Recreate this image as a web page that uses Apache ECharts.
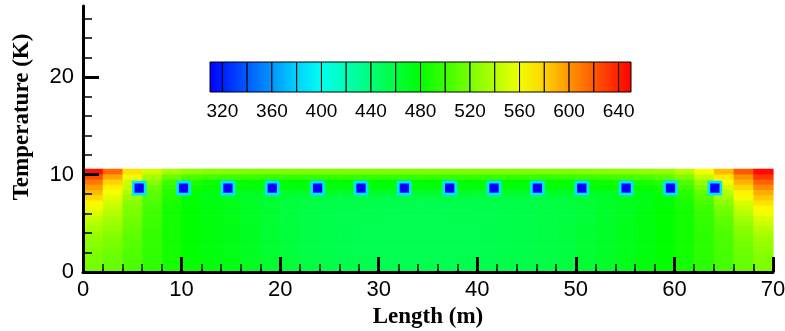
<!DOCTYPE html>
<html><head><meta charset="utf-8">
<script src="https://cdn.jsdelivr.net/npm/echarts@6/dist/echarts.min.js"></script>
<style>html,body{margin:0;padding:0;background:#fff}#c{width:785px;height:331px}</style>
</head><body><div id="c"></div>
<script>
// ---- data ----
const xCenters = [1,3,5,7,9,11,13,15,17,19,21,23,25,27,29,31,33,35,37,39,41,43,45,47,49,51,53,55,57,59,61,63,65,67,69];
const yCenters = [0.265,0.795,1.325,1.855,2.385,2.915,3.445,3.975,4.505,5.035,5.565,6.095,6.625,7.155,7.685,8.215,8.745,9.275,9.805,10.335];
// temperature rows, bottom (y=0.265) to top (y=10.335)
const tempRows = [
 [518,513,504,496,487,482, 477,474,470,465,461,458,456,455,454,453,453,453,453,454,454,455,456,458,460,463,467,471,476, 481,486,494,503,513,521],
 [519,514,505,496,487,482, 477,474,470,465,461,458,456,455,454,453,453,453,453,454,454,455,456,458,460,463,467,471,476, 481,486,494,503,514,522],
 [520,515,505,496,487,481, 477,473,469,465,461,457,455,454,454,453,453,453,453,454,454,455,456,457,459,463,467,471,476, 480,486,494,503,514,523],
 [521,516,506,496,487,481, 476,473,469,465,460,457,455,454,453,453,453,453,453,453,454,455,456,457,459,463,467,471,475, 480,486,494,503,515,525],
 [523,518,507,496,486,480, 476,473,469,464,460,457,455,454,453,453,453,453,453,453,454,455,456,457,459,463,467,471,475, 480,486,494,504,516,527],
 [525,520,508,497,486,480, 476,473,469,464,460,457,455,454,453,453,453,453,453,453,454,455,456,457,459,463,467,471,475, 480,486,494,504,518,529],
 [528,522,510,497,486,479, 476,473,469,464,460,457,455,454,453,453,453,453,453,453,454,455,456,457,459,463,467,471,475, 480,486,494,505,520,532],
 [531,525,512,498,486,479, 476,473,469,464,460,457,455,454,453,453,453,453,453,453,454,455,456,457,459,463,467,471,475, 480,486,495,506,523,536],
 [535,528,514,498,486,479, 476,473,469,464,460,457,455,454,453,453,453,453,453,453,454,455,456,457,459,463,467,471,475, 480,486,495,508,526,541],
 [540,532,516,500,486,479, 476,473,468,464,460,457,455,454,454,453,453,453,453,454,454,455,456,457,459,462,466,471,475, 480,486,496,510,530,547],
 [546,535,518,500,486,479, 476,473,468,464,460,457,455,454,454,453,453,453,453,454,454,455,456,457,459,462,466,471,475, 480,486,497,512,535,553],
 [553,540,520,502,486,480, 476,472,468,464,460,457,455,454,454,454,453,453,454,454,454,455,456,457,459,462,466,470,475, 480,486,498,516,540,560],
 [560,545,522,503,487,480, 475,472,468,464,460,457,455,455,454,454,454,454,454,454,455,455,456,457,459,462,466,470,474, 480,487,500,520,546,567],
 [568,550,525,505,488,480, 475,472,468,464,460,457,456,455,455,455,454,454,454,455,455,455,456,457,459,462,466,470,474, 480,488,503,526,552,575],
 [578,555,530,508,490,480, 472,469,466,463,461,459,458,458,458,457,457,457,457,458,458,458,458,459,461,463,466,469,473, 481,491,508,533,561,583],
 [588,562,538,510,492,482, 474,471,469,468,467,467,467,466,466,466,466,466,466,466,466,467,467,467,468,469,470,472,476, 483,494,513,541,569,593],
 [598,570,545,515,495,485, 480,478,477,477,476,476,476,476,476,476,476,476,476,476,476,476,476,477,477,478,479,481,483, 487,499,521,549,579,604],
 [610,580,550,525,500,490, 484,482,481,481,480,480,480,480,480,480,480,480,480,480,480,480,480,481,481,482,484,486,488, 493,506,530,560,590,617],
 [625,595,560,535,515,505, 502,500,499,498,498,498,498,498,498,498,498,498,498,498,498,498,498,498,499,500,501,503,505, 510,522,545,572,602,632],
 [645,615,575,550,535,528, 525,523,522,522,521,521,521,521,521,521,521,521,521,521,521,521,521,522,522,523,524,526,527, 530,540,562,588,620,647]
];
const probeX = [5.7,10.2,14.7,19.2,23.8,28.2,32.6,37.2,41.7,46.1,50.6,55.1,59.6,64.1];
const probeY = [8.6,8.6,8.6,8.6,8.6,8.6,8.6,8.6,8.6,8.6,8.6,8.6,8.6,8.6];
const legendEdges = [310,320,340,360,380,400,420,440,460,480,500,520,540,560,580,600,620,640,650];
const legendLabels = [320,360,400,440,480,520,560,600,640];
const yMajorTicks = [0,10,20];
const yMinorTicks = [2,4,6,8,12,14,16,18,22,24,26];
const cmap = ['#0000ff','#00ffff','#00ff00','#ffff00','#ff0000'];
const cMin = 310, cMax = 650;

// ---- build ----
const fieldData = [];
tempRows.forEach((row, j) => row.forEach((v, i) => fieldData.push([xCenters[i], yCenters[j], v])));
const probeData = probeX.map((x, i) => [x, probeY[i]]);
const bandData = [];
for (let k = 0; k < legendEdges.length - 1; k++) bandData.push([legendEdges[k], legendEdges[k+1]]);
const DX = 2, DY = 0.53;
const colorAt = v => echarts.color.lerp((v - cMin) / (cMax - cMin), cmap);

const chart = echarts.init(document.getElementById('c'), null, {renderer: 'canvas'});
const sans = '"Liberation Sans", Arial, sans-serif';
const serif = '"Liberation Serif", "Times New Roman", serif';
chart.setOption({
  animation: false,
  backgroundColor: '#fff',
  grid: [
    {left: 83, right: 12, top: 6, bottom: 59, containLabel: false, outerBoundsMode: 'none'},
    {left: 210, width: 421, top: 62, height: 30, containLabel: false, outerBoundsMode: 'none'}
  ],
  xAxis: [
    {type: 'value', gridIndex: 0, min: 0, max: 70, interval: 10, z: 5,
     axisLine: {lineStyle: {color: '#000', width: 3}},
     axisTick: {inside: true, length: 15, lineStyle: {color: '#000', width: 3}},
     minorTick: {show: true, splitNumber: 5, length: 8, lineStyle: {color: '#000', width: 1.5}},
     splitLine: {show: false},
     axisLabel: {color: '#000', fontSize: 22, fontFamily: sans, margin: 7},
     name: 'Length (m)', nameLocation: 'middle', nameGap: 33,
     nameTextStyle: {color: '#000', fontSize: 23, fontWeight: 'bold', fontFamily: serif}},
    {type: 'value', gridIndex: 1, min: cMin, max: cMax,
     axisLine: {show: false}, axisTick: {show: false}, splitLine: {show: false},
     axisLabel: {customValues: legendLabels, color: '#000', fontSize: 19, fontFamily: sans, margin: 10}}
  ],
  yAxis: [
    {type: 'value', gridIndex: 0, min: 0, max: 27.3, z: 5,
     axisLine: {show: true, lineStyle: {color: '#000', width: 3}},
     axisTick: {show: true, inside: true, length: 16, customValues: yMajorTicks, lineStyle: {color: '#000', width: 3}},
     splitLine: {show: false},
     axisLabel: {customValues: yMajorTicks, color: '#000', fontSize: 22, fontFamily: sans, margin: 9}},
    {type: 'value', gridIndex: 0, position: 'left', min: 0, max: 27.3, z: 5,
     axisLine: {show: false},
     axisTick: {show: true, inside: true, length: 9, customValues: yMinorTicks, lineStyle: {color: '#000', width: 1.5}},
     splitLine: {show: false}, axisLabel: {show: false}},
    {type: 'value', gridIndex: 1, min: 0, max: 1, show: false}
  ],
  visualMap: {type: 'continuous', show: false, dimension: 2, seriesIndex: 0,
    min: cMin, max: cMax, inRange: {color: cmap}},
  graphic: [{type: 'text', x: 22, y: 117, rotation: Math.PI / 2,
    style: {text: 'Temperature (K)', font: 'bold 23px ' + serif, fill: '#000', align: 'center', verticalAlign: 'middle'}}],
  series: [
    {type: 'custom', xAxisIndex: 0, yAxisIndex: 0, data: fieldData, z: 1,
     renderItem: (params, api) => {
       const x = api.value(0), y = api.value(1);
       const p0 = api.coord([x - DX / 2, y + DY / 2]);
       const p1 = api.coord([x + DX / 2, y - DY / 2]);
       return {type: 'rect', shape: {x: p0[0], y: p0[1], width: p1[0] - p0[0] + 0.6, height: p1[1] - p0[1] + 0.6},
               style: {fill: api.visual('color')}};
     }},
    {type: 'scatter', xAxisIndex: 0, yAxisIndex: 0, data: probeData, symbol: 'rect', symbolSize: 12, z: 3,
     itemStyle: {color: '#0000ff', borderColor: '#00e5ff', borderWidth: 2.7, opacity: 1}},
    {type: 'custom', xAxisIndex: 1, yAxisIndex: 2, data: bandData,
     renderItem: (params, api) => {
       const lo = api.value(0), hi = api.value(1);
       const p0 = api.coord([lo, 1]), p1 = api.coord([hi, 0]);
       return {type: 'rect', shape: {x: p0[0], y: p0[1], width: p1[0] - p0[0], height: p1[1] - p0[1]},
               style: {fill: new echarts.graphic.LinearGradient(0, 0, 1, 0, [
                 {offset: 0, color: colorAt(lo)}, {offset: 1, color: colorAt(hi)}]),
                 stroke: '#000', lineWidth: 1}};
     }}
  ]
});
</script></body></html>
